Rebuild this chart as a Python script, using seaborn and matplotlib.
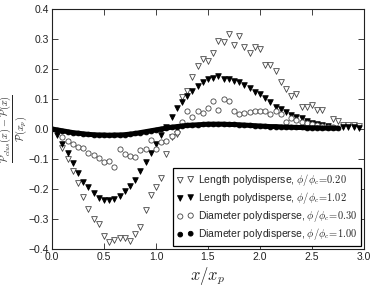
import matplotlib
matplotlib.use("Agg")
import matplotlib.pyplot as plt
import seaborn as sns
import numpy as np
import pandas as pd

# ---- data ----
x_len020 = [0.10, 0.15, 0.20, 0.25, 0.30, 0.35, 0.40, 0.45, 0.50, 0.55, 0.60, 0.65, 0.70, 0.75,
            0.80, 0.85, 0.90, 0.95, 1.00, 1.05, 1.10, 1.15, 1.20, 1.25, 1.30, 1.35, 1.40, 1.45,
            1.50, 1.55, 1.60, 1.65, 1.70, 1.75, 1.80, 1.85, 1.90, 1.95, 2.00, 2.05, 2.10, 2.15,
            2.20, 2.25, 2.30, 2.35, 2.40, 2.45, 2.50, 2.55, 2.60, 2.70, 2.75, 2.80, 2.85, 2.90, 2.95]
y_len020 = [-0.064, -0.101, -0.140, -0.181, -0.228, -0.268, -0.301, -0.318, -0.356, -0.376, -0.370,
            -0.364, -0.364, -0.373, -0.351, -0.326, -0.270, -0.220, -0.192, -0.164, -0.083, -0.028,
            -0.018, 0.106, 0.128, 0.172, 0.210, 0.232, 0.228, 0.254, 0.294, 0.291, 0.317, 0.280,
            0.310, 0.272, 0.254, 0.272, 0.266, 0.213, 0.213, 0.194, 0.158, 0.132, 0.110, 0.116,
            0.072, 0.072, 0.080, 0.063, 0.063, 0.032, 0.028, 0.013, 0.013, 0.013, 0.010]

x_len102 = [0.05, 0.10, 0.15, 0.20, 0.25, 0.30, 0.35, 0.40, 0.45, 0.50, 0.55, 0.60, 0.65, 0.70,
            0.75, 0.80, 0.85, 0.90, 0.95, 1.00, 1.05, 1.10, 1.15, 1.20, 1.25, 1.30, 1.35, 1.40,
            1.45, 1.50, 1.55, 1.60, 1.65, 1.70, 1.75, 1.80, 1.85, 1.90, 1.95, 2.00, 2.05, 2.10,
            2.15, 2.20, 2.25, 2.30, 2.35, 2.40, 2.45, 2.50, 2.55, 2.60, 2.65, 2.80, 2.85, 2.90, 2.95]
y_len102 = [-0.020, -0.050, -0.081, -0.114, -0.148, -0.176, -0.194, -0.212, -0.231, -0.235, -0.237,
            -0.232, -0.223, -0.206, -0.190, -0.170, -0.140, -0.109, -0.079, -0.050, -0.020, 0.006,
            0.041, 0.069, 0.091, 0.111, 0.127, 0.143, 0.158, 0.167, 0.169, 0.177, 0.166, 0.166,
            0.160, 0.158, 0.147, 0.136, 0.124, 0.117, 0.102, 0.091, 0.074, 0.066, 0.058, 0.047,
            0.041, 0.036, 0.028, 0.021, 0.017, 0.013, 0.010, 0.006, 0.005, 0.005, 0.004]

x_dia030 = [0.10, 0.15, 0.20, 0.25, 0.30, 0.35, 0.40, 0.45, 0.50, 0.55, 0.60, 0.65, 0.70, 0.75,
            0.80, 0.85, 0.90, 0.95, 1.00, 1.05, 1.10, 1.15, 1.20, 1.25, 1.30, 1.35, 1.40, 1.45,
            1.50, 1.55, 1.60, 1.65, 1.70, 1.75, 1.80, 1.85, 1.90, 1.95, 2.00, 2.05, 2.10, 2.15,
            2.20, 2.25, 2.30, 2.35, 2.40, 2.45, 2.50, 2.55, 2.60, 2.65, 2.70]
y_dia030 = [-0.026, -0.039, -0.050, -0.059, -0.064, -0.081, -0.087, -0.098, -0.111, -0.107, -0.126,
            -0.068, -0.083, -0.089, -0.094, -0.070, -0.068, -0.037, -0.067, -0.045, -0.040, -0.023,
            -0.009, 0.024, 0.061, 0.041, 0.061, 0.052, 0.069, 0.093, 0.063, 0.099, 0.093, 0.061,
            0.050, 0.054, 0.058, 0.060, 0.061, 0.061, 0.049, 0.061, 0.050, 0.024, 0.038, 0.030,
            0.024, 0.019, 0.016, 0.013, 0.010, 0.008, 0.006]

x_dia100 = [0.00, 0.05, 0.10, 0.15, 0.20, 0.25, 0.30, 0.35, 0.40, 0.45, 0.50, 0.55, 0.60, 0.65,
            0.70, 0.75, 0.80, 0.85, 0.90, 0.95, 1.00, 1.05, 1.10, 1.15, 1.20, 1.25, 1.30, 1.35,
            1.40, 1.45, 1.50, 1.55, 1.60, 1.65, 1.70, 1.75, 1.80, 1.85, 1.90, 1.95, 2.00, 2.05,
            2.10, 2.15, 2.20, 2.25, 2.30, 2.35, 2.40, 2.45, 2.50, 2.55, 2.60, 2.65, 2.70, 2.75]
y_dia100 = [0.000, -0.003, -0.006, -0.009, -0.012, -0.014, -0.016, -0.018, -0.019, -0.020, -0.020,
            -0.021, -0.020, -0.020, -0.019, -0.017, -0.015, -0.012, -0.009, -0.006, -0.003, 0.000,
            0.003, 0.006, 0.008, 0.010, 0.012, 0.013, 0.014, 0.015, 0.016, 0.016, 0.016, 0.016,
            0.015, 0.015, 0.014, 0.013, 0.012, 0.011, 0.010, 0.009, 0.008, 0.008, 0.007, 0.006,
            0.006, 0.005, 0.005, 0.004, 0.004, 0.004, 0.003, 0.003, 0.003, 0.003]

labels = [r"Length polydisperse, $\phi/\phi_c\!=\!0.20$",
          r"Length polydisperse, $\phi/\phi_c\!=\!1.02$",
          r"Diameter polydisperse, $\phi/\phi_c\!=\!0.30$",
          r"Diameter polydisperse, $\phi/\phi_c\!=\!1.00$"]
x_ticks = [0.0, 0.5, 1.0, 1.5, 2.0, 2.5, 3.0]
y_ticks = [-0.4, -0.3, -0.2, -0.1, 0.0, 0.1, 0.2, 0.3, 0.4]

# ---- style ----
sns.set_theme(style="ticks")
plt.rcParams["font.family"] = ["Liberation Sans", "DejaVu Sans"]
plt.rcParams["mathtext.fontset"] = "cm"
plt.rcParams["xtick.direction"] = "in"
plt.rcParams["ytick.direction"] = "in"
plt.rcParams["xtick.top"] = True
plt.rcParams["ytick.right"] = True

fig = plt.figure(figsize=(3.74, 2.86), dpi=100)
ax = fig.add_axes([0.139, 0.129, 0.834, 0.840])

# dense filled-circle series: thick band under the markers
sns.lineplot(x=x_dia100, y=y_dia100, ax=ax, color="black", lw=3.6, legend=False, sort=False)

sns.scatterplot(x=x_len020, y=y_len020, ax=ax, marker="v", s=17, facecolor="white",
                edgecolor="#444444", linewidth=0.6, label=labels[0])
sns.scatterplot(x=x_len102, y=y_len102, ax=ax, marker="v", s=16, color="black",
                edgecolor="black", linewidth=0.6, label=labels[1])
sns.scatterplot(x=x_dia030, y=y_dia030, ax=ax, marker="o", s=14, facecolor="white",
                edgecolor="#444444", linewidth=0.6, label=labels[2])
sns.scatterplot(x=x_dia100, y=y_dia100, ax=ax, marker="o", s=12, color="black",
                edgecolor="black", linewidth=0.6, label=labels[3])

ax.set_xlim(0, 3)
ax.set_ylim(-0.4, 0.4)
ax.set_xticks(x_ticks)
ax.set_yticks(y_ticks)
ax.set_xticklabels([f"{t:.1f}" for t in x_ticks])
ax.set_yticklabels([f"{t:.1f}".replace("-", "\u2212") for t in y_ticks])
ax.tick_params(labelsize=7.5, length=4, width=0.6, colors="#222222", pad=2)
for s in ax.spines.values():
    s.set_visible(True)
    s.set_linewidth(0.8)
    s.set_color("#222222")

ax.set_xlabel(r"$x/x_p$", fontsize=12, labelpad=2)
ax.set_ylabel(r"$\frac{\mathcal{P}_{clus}(x)-\mathcal{P}(x)}{\mathcal{P}(x_p)}$", fontsize=10.5)
ax.yaxis.label.set_verticalalignment("center")
ax.yaxis.set_label_coords(-0.119, 0.5)

leg = ax.legend(loc="lower right", scatterpoints=2, fontsize=7.5, frameon=True, fancybox=False,
                edgecolor="black", framealpha=1, borderpad=0.35, handletextpad=0.4,
                labelspacing=0.2, handlelength=1.6, borderaxespad=0.3)
leg.get_frame().set_linewidth(0.9)

fig.savefig("out.png", dpi=100)
